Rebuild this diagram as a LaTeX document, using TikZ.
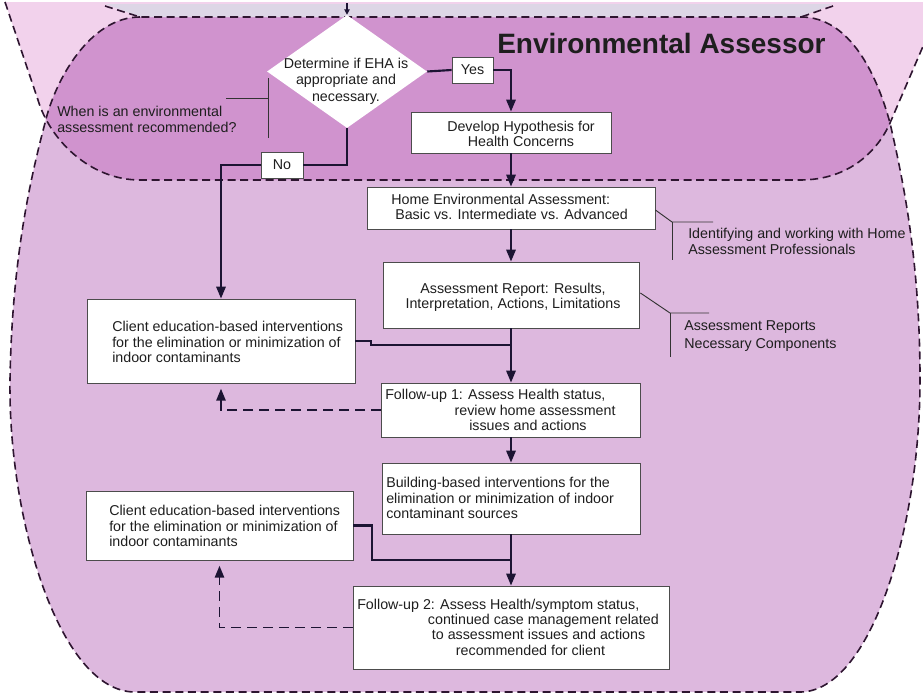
\documentclass[tikz,border=0pt]{standalone}
\usepackage{fontspec}
\setmainfont{Liberation Sans}
\usetikzlibrary{shapes.geometric,arrows.meta,calc}
\definecolor{capsulecol}{HTML}{D093CE}
\definecolor{lowercol}{HTML}{DDB8DE}
\definecolor{cornercol}{HTML}{F2D2EC}
\definecolor{bandcol}{HTML}{DDD6E6}
\definecolor{dashcol}{HTML}{2E1530}
\definecolor{flowcol}{HTML}{1C1433}
\definecolor{txtcol}{HTML}{1E1E1E}
\begin{document}
\begin{tikzpicture}[x=0.75pt,y=-0.75pt,
  box/.style={draw=black!70, line width=0.6pt, fill=white, inner sep=0pt, rectangle},
  txt/.style={inner sep=0pt, text=txtcol, font=\fontsize{10.7}{11.5}\selectfont},
  flow/.style={draw=flowcol, line width=1.6pt},
  arr/.style={flow, -{Triangle[length=9pt,width=7pt]}},
  darr/.style={draw=flowcol, line width=1.4pt, dash pattern=on 7.5pt off 4.5pt, -{Triangle[length=9pt,width=7pt]}, shorten >=4pt},
  callout/.style={draw=black!80, line width=0.7pt},
  region/.style={draw=dashcol, line width=1.2pt, dash pattern=on 6pt off 3.5pt},
]
\useasboundingbox (0,0) rectangle (923,696);
\clip (0,0) rectangle (923,696);
\fill[white] (0,0) rectangle (923,696);
% shape X (upper band, pink)
\fill[cornercol] (5,2) -- (38,100) .. controls (50,140) and (90,180) .. (140,180) -- (800,180) .. controls (850,180) and (878,150) .. (890,123) -- (930,30) -- (930,2) -- cycle;
% shape Y (bowl, lavender)
\fill[lowercol] (140,17) .. controls (90,17) and (55,80) .. (45,123) .. controls (30,180) and (12,260) .. (10,380) .. controls (8,520) and (60,692) .. (135,692) -- (800,692) .. controls (870,692) and (920,530) .. (920,380) .. controls (920,260) and (903,180) .. (890,123) .. controls (877,75) and (850,17) .. (801,17) -- cycle;
% overlap (capsule)
\begin{scope}
\clip (5,2) -- (38,100) .. controls (50,140) and (90,180) .. (140,180) -- (800,180) .. controls (850,180) and (878,150) .. (890,123) -- (930,30) -- (930,2) -- cycle;
\fill[capsulecol] (140,17) .. controls (90,17) and (55,80) .. (45,123) .. controls (30,180) and (12,260) .. (10,380) .. controls (8,520) and (60,692) .. (135,692) -- (800,692) .. controls (870,692) and (920,530) .. (920,380) .. controls (920,260) and (903,180) .. (890,123) .. controls (877,75) and (850,17) .. (801,17) -- cycle;
\end{scope}
\fill[bandcol] (105,4) -- (833,4) -- (801,17) -- (140,17) -- cycle;
% dashed outlines
\draw[region] (5,2) -- (38,100) .. controls (50,140) and (90,180) .. (140,180) -- (800,180) .. controls (850,180) and (878,150) .. (890,123) -- (930,30);
\draw[region] (140,17) .. controls (90,17) and (55,80) .. (45,123) .. controls (30,180) and (12,260) .. (10,380) .. controls (8,520) and (60,692) .. (135,692) -- (800,692) .. controls (870,692) and (920,530) .. (920,380) .. controls (920,260) and (903,180) .. (890,123) .. controls (877,75) and (850,17) .. (801,17) -- cycle;
\draw[region] (105,6) -- (140,17);
\draw[region] (833,6) -- (801,17);

% title
\node[txt, anchor=west, font=\fontsize{21}{24}\selectfont\bfseries] (title) at (497,43) {Environmental Assessor};

% decision
\node[diamond, fill=white, inner sep=0pt, minimum width=120pt, minimum height=84.75pt] (d) at (347,71.5) {};
\node[txt, align=center, font=\fontsize{10.7}{12.4}\selectfont] (dt) at (346,81) {Determine if EHA is\\appropriate and\\necessary.};
\node[box, minimum width=30.75pt, minimum height=19.5pt] (yes) at (472.5,70) {};
\node[txt] (yest) at (472.5,70) {Yes};
\node[box, minimum width=31.5pt, minimum height=19.5pt] (no) at (282,165) {};
\node[txt] (not) at (282,165) {No};

% boxes
\node[box, minimum width=150pt, minimum height=30.75pt] (dev) at (511,132.5) {};
\node[txt, align=center] (devt) at (521,134) {Develop Hypothesis for\\Health Concerns};

\node[box, minimum width=216pt, minimum height=31.5pt] (home) at (511,208) {};
\node[txt, align=left, anchor=west] (homet) at (391,207) {Home Environmental Assessment:\\\hspace*{3pt}Basic vs. Intermediate vs. Advanced};

\node[box, minimum width=192pt, minimum height=49.5pt] (report) at (511,295) {};
\node[txt, align=center] (reportt) at (513,297) {Assessment Report: Results,\\Interpretation, Actions, Limitations};

\node[box, minimum width=201pt, minimum height=63pt] (c1) at (221,341) {};
\node[txt, align=left, anchor=west] (c1t) at (112,342) {Client education-based interventions\\for the elimination or minimization of\\indoor contaminants};

\node[box, minimum width=194.25pt, minimum height=40.5pt] (fu1) at (511,410) {};
\node[txt, align=left, anchor=west] (fu1t) at (385,410) {Follow-up 1: Assess Health status,\\\hspace*{52pt}review home assessment\\\hspace*{63pt}issues and actions};

\node[box, minimum width=193.5pt, minimum height=53.25pt] (build) at (511,498.5) {};
\node[txt, align=left, anchor=west] (buildt) at (386,498) {Building-based interventions for the\\elimination or minimization of indoor\\contaminant sources};

\node[box, minimum width=200.25pt, minimum height=51.75pt] (c2) at (219.5,525.5) {};
\node[txt, align=left, anchor=west] (c2t) at (109,526) {Client education-based interventions\\for the elimination or minimization of\\indoor contaminants};

\node[box, minimum width=237pt, minimum height=62.25pt] (fu2) at (511,627.5) {};
\node[txt, align=left, anchor=west] (fu2t) at (357,627) {Follow-up 2: Assess Health/symptom status,\\\hspace*{53pt}continued case management related\\\hspace*{56pt}to assessment issues and actions\\\hspace*{74pt}recommended for client};

% callout texts
\node[txt, align=left, anchor=west] (lq) at (57,119.5) {When is an environmental\\assessment recommended?};
\node[txt, align=left, anchor=west] (rq1) at (688,241.5) {Identifying and working with Home\\Assessment Professionals};
\node[txt, align=left, anchor=west, font=\fontsize{10.7}{13.5}\selectfont] (rq2) at (684,336) {Assessment Reports\\Necessary Components};

% callout lines
\coordinate (lqa) at (268,78);
\coordinate (lqb) at (268,138);
\coordinate (lqc) at (226,98);
\draw[callout] (lqa) -- (lqb);
\draw[callout] (lqc) -- (lqa |- lqc);
\coordinate (r1a) at (672,222);
\draw[callout] ($(home.east)+(0,2)$) -- (r1a) -- ++(41,0);
\draw[callout] (r1a) -- ++(0,38);
\coordinate (r2a) at (670,313);
\draw[callout] ($(report.east)+(1,-2)$) -- (r2a) -- ++(39,0);
\draw[callout] (r2a) -- ++(0,44);

% connectors
\coordinate (dtop) at (347,3);
\draw[draw=flowcol, line width=0.8pt, -{Triangle[length=4pt,width=4pt]}] (dtop) -- (d.north);
\draw[flow] (d.east) -- (yes.west);
\draw[arr] (yes.east) -| (dev.north);
\draw[flow] (d.south) |- (no.east);
\draw[arr] (no.west) -| (c1.north);
\draw[arr] (dev.south) -- (home.north);
\draw[arr] (home.south) -- (report.north);
\draw[arr] (report.south) -- (fu1.north);
\coordinate (j1) at (511,345);
\draw[flow] (c1.east) -- ++(16,0) |- (j1);
\draw[arr] (fu1.south) -- (build.north);
\draw[arr] (build.south) -- (fu2.north);
\coordinate (j2) at (511,560);
\draw[flow] (c2.east) -- ++(19,0) |- (j2);
\draw[darr] (fu1.west) -| (c1.south);
\draw[darr] (fu2.west) -| (c2.south);
\end{tikzpicture}
\end{document}
